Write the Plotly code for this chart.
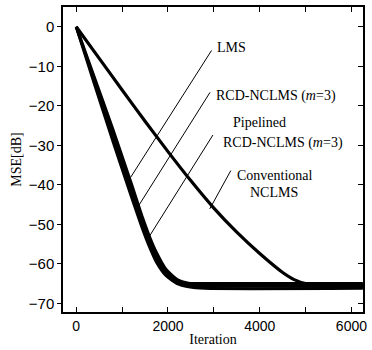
import plotly.graph_objects as go

# ---- data ----
lms_iter = [0, 500, 1000, 1500, 2000, 2500, 3000, 3500, 4000, 4500, 4750, 5000, 5500, 6250]
lms_mse = [0, -8.0, -16.0, -23.9, -31.6, -39.0, -45.9, -52.0, -57.4, -62.2, -64.0, -65.0, -65.6, -65.6]

fast_iter = [0, 400, 800, 1200, 1450, 1600, 1750, 1950, 2200, 2450, 2800, 6250]
rcd_mse = [0, -14.6, -29.0, -42.9, -51.3, -55.8, -59.6, -62.9, -65.0, -65.8, -66.2, -66.2]
pipelined_mse = [0, -13.8, -27.5, -41.3, -49.9, -54.5, -58.4, -62.1, -64.5, -65.3, -65.6, -65.6]
conv_mse = [0, -13.0, -26.0, -39.7, -48.5, -53.2, -57.2, -61.3, -64.0, -64.9, -65.0, -65.0]

x_ticks = [0, 2000, 4000, 6000]
y_ticks = [0, -10, -20, -30, -40, -50, -60, -70]

# label text and leader lines (start near label -> end on curve), in data units
labels = [
    ("LMS", 3025, -5.3, "left"),
    ("RCD-NCLMS (<i>m</i>=3)", 3000, -17.4, "left"),
    ("Pipelined", 3995, -24.3, "center"),
    ("RCD-NCLMS (<i>m</i>=3)", 3150, -29.3, "left"),
    ("Conventional", 4340, -37.7, "center"),
    ("NCLMS", 4320, -42.0, "center"),
]
leaders = [
    (2950, -6.0, 1186, -38.1),
    (2917, -16.6, 1365, -45.2),
    (2980, -27.4, 1580, -53.3),
    (3370, -36.4, 2911, -46.1),
]

serif = "Liberation Serif, Times New Roman, serif"
sans = "Liberation Sans, Arial, sans-serif"

fig = go.Figure()
line_style = dict(color="black", shape="spline", smoothing=0.6)
fig.add_trace(go.Scatter(x=lms_iter, y=lms_mse, mode="lines",
                         line=dict(width=3.2, **line_style), showlegend=False))
for ys in (conv_mse, pipelined_mse, rcd_mse):
    fig.add_trace(go.Scatter(x=fast_iter, y=ys, mode="lines",
                             line=dict(width=3, **line_style), showlegend=False))
# empty trace to host the right-hand tick axis
fig.add_trace(go.Scatter(x=[], y=[], yaxis="y2", showlegend=False))

for x0, y0, x1, y1 in leaders:
    fig.add_shape(type="line", x0=x0, y0=y0, x1=x1, y1=y1, xref="x", yref="y",
                  line=dict(color="black", width=1))

for txt, x, y, anc in labels:
    fig.add_annotation(text=txt, x=x, y=y, xref="x", yref="y", showarrow=False,
                       xanchor=anc, yanchor="middle",
                       font=dict(family=serif, size=14, color="black"))

yr = [-72.2, 5.0]
fig.update_layout(
    width=372, height=350,
    margin=dict(l=63, r=5, t=6, b=38),
    paper_bgcolor="white", plot_bgcolor="white",
    xaxis=dict(range=[-289, 6252], tickvals=x_ticks, ticks="inside", ticklen=5,
               tickcolor="black", showline=True, linecolor="black", linewidth=1.5,
               mirror="ticks", showgrid=False, zeroline=False,
               minor=dict(dtick=1000, tick0=0, ticks="inside", ticklen=5, tickcolor="black"),
               tickfont=dict(family=sans, size=14, color="black"),
               title=dict(text="Iteration", font=dict(family=serif, size=14, color="black"),
                          standoff=2)),
    yaxis=dict(range=yr, tickvals=y_ticks, ticks="outside", ticklen=4,
               tickcolor="black", showline=True, linecolor="black", linewidth=1.5,
               showgrid=False, zeroline=False,
               tickfont=dict(family=sans, size=15, color="black"),
               title=dict(text="MSE[dB]", font=dict(family=serif, size=14, color="black"),
                          standoff=4)),
    yaxis2=dict(range=yr, overlaying="y", side="right", tickvals=y_ticks,
                ticks="inside", ticklen=5, tickcolor="black", showticklabels=False,
                showline=True, linecolor="black", linewidth=1.5, showgrid=False,
                zeroline=False),
)

fig.write_html("out.html", config={"displayModeBar": False},
               post_script="document.body.style.margin='0';")
